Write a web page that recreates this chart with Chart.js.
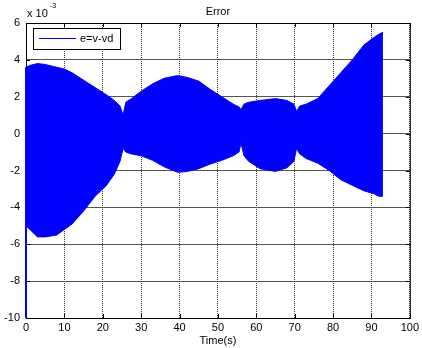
<!DOCTYPE html>
<html lang="en">
<head>
  <meta charset="UTF-8" />
  <title>Error</title>
  <script src="https://cdn.jsdelivr.net/npm/chart.js"></script>
  <style>
    body { margin: 0; background: #fff; }
    #wrap { width: 422px; height: 348px; }
  </style>
</head>
<body>
  <div id="wrap"><canvas id="errChart" width="422" height="348"></canvas></div>

  <script>
    // envelope of e = v - vd (units of 1e-3)
    const times = [0, 1, 3, 5, 8, 10, 12, 15, 18, 21, 23, 24.5, 25.3, 26, 27.5, 30, 33, 36, 39.5, 42, 45, 48, 51, 54, 55.5, 56, 56.8, 58, 61, 65, 68, 69.8, 70.5, 71.3, 73, 76, 79, 82, 85, 88, 90.5, 92, 93];
    const upper = [3.6, 3.7, 3.8, 3.75, 3.6, 3.5, 3.3, 2.9, 2.5, 2.1, 1.8, 1.5, 1.0, 1.7, 1.9, 2.3, 2.7, 3.0, 3.15, 3.05, 2.85, 2.4, 2.0, 1.6, 1.45, 1.3, 1.6, 1.7, 1.8, 1.9, 1.8, 1.6, 1.2, 1.5, 1.6, 1.9, 2.6, 3.3, 4.0, 4.8, 5.2, 5.4, 5.5];
    const lower = [-5.0, -5.2, -5.6, -5.6, -5.5, -5.2, -4.9, -4.2, -3.4, -2.8, -2.2, -1.5, -0.8, -1.0, -1.1, -1.2, -1.45, -1.8, -2.1, -2.05, -1.9, -1.65, -1.45, -1.2, -1.0, -0.5, -1.2, -1.5, -1.9, -2.05, -1.85, -1.5, -0.8, -1.1, -1.35, -1.6, -2.0, -2.5, -2.8, -3.1, -3.25, -3.4, -3.4];
    // initial transient at t = 0
    const startT = [0, 0];
    const startV = [-10, 3.6];

    const xTicks = [0, 10, 20, 30, 40, 50, 60, 70, 80, 90, 100];
    const yTicks = [-10, -8, -6, -4, -2, 0, 2, 4, 6];

    const BLUE = '#0000ff';
    const FONT = '"Liberation Sans", Arial, sans-serif';

    const toPts = (xs, ys) => xs.map((x, i) => ({ x: x, y: ys[i] }));

    // MATLAB style: box and inner ticks under the data, title/exponent/legend on top
    const matlabDecor = {
      id: 'matlabDecor',
      beforeDatasetsDraw(chart) {
        const { ctx, chartArea: a, scales } = chart;
        ctx.save();
        ctx.strokeStyle = '#000';
        ctx.lineWidth = 1;
        ctx.strokeRect(a.left + 0.5, a.top + 0.5, a.right - a.left, a.bottom - a.top);

        ctx.beginPath();
        xTicks.forEach(v => {
          const px = Math.round(scales.x.getPixelForValue(v)) + 0.5;
          ctx.moveTo(px, a.bottom); ctx.lineTo(px, a.bottom - 4);
          ctx.moveTo(px, a.top); ctx.lineTo(px, a.top + 4);
        });
        yTicks.forEach(v => {
          const py = Math.round(scales.y.getPixelForValue(v)) + 0.5;
          ctx.moveTo(a.left, py); ctx.lineTo(a.left + 4, py);
          ctx.moveTo(a.right, py); ctx.lineTo(a.right - 4, py);
        });
        ctx.stroke();
        ctx.restore();
      },
      afterDraw(chart) {
        const { ctx, chartArea: a } = chart;
        ctx.save();
        ctx.fillStyle = '#000';
        ctx.font = '11px ' + FONT;
        ctx.textBaseline = 'middle';
        ctx.textAlign = 'center';
        ctx.fillText('Error', (a.left + a.right) / 2, 12);

        ctx.textAlign = 'left';
        ctx.fillText('x 10', 27, 14);
        ctx.font = '7px ' + FONT;
        ctx.fillText('-3', 50, 6);

        // legend
        ctx.lineWidth = 1;
        ctx.strokeStyle = '#000';
        ctx.fillStyle = '#fff';
        ctx.fillRect(33, 28, 87, 21);
        ctx.strokeRect(33.5, 28.5, 87, 21);
        ctx.strokeStyle = BLUE;
        ctx.beginPath();
        ctx.moveTo(39, 38.5); ctx.lineTo(76, 38.5);
        ctx.stroke();
        ctx.fillStyle = '#000';
        ctx.font = '11px ' + FONT;
        ctx.fillText('e=v-vd', 80, 39);
        ctx.restore();
      }
    };

    new Chart(document.getElementById('errChart'), {
      type: 'line',
      data: {
        datasets: [
          {
            label: 'upper',
            data: toPts(times, upper),
            borderColor: BLUE,
            borderWidth: 1,
            pointRadius: 0,
            fill: false
          },
          {
            label: 'e=v-vd',
            data: toPts(times, lower),
            borderColor: BLUE,
            backgroundColor: BLUE,
            borderWidth: 1,
            pointRadius: 0,
            fill: '-1'
          },
          {
            label: 'start',
            data: toPts(startT, startV),
            borderColor: BLUE,
            borderWidth: 2,
            pointRadius: 0,
            fill: false,
            clip: 3
          }
        ]
      },
      options: {
        responsive: false,
        animation: false,
        layout: { padding: { top: 23, right: 7, left: 0, bottom: 0 } },
        plugins: {
          legend: { display: false },
          tooltip: { enabled: false }
        },
        scales: {
          x: {
            type: 'linear',
            min: 0,
            max: 100,
            afterBuildTicks: s => { s.ticks = xTicks.map(v => ({ value: v })); },
            afterFit: s => { s.height = 30; },
            grid: { color: '#333', lineWidth: 1, drawTicks: false },
            border: { display: true, color: '#000', dash: [1, 1] },
            ticks: { color: '#000', font: { family: FONT, size: 11 }, padding: 3, maxRotation: 0 },
            title: { display: true, text: 'Time(s)', color: '#000', font: { family: FONT, size: 11 }, padding: 0 }
          },
          y: {
            min: -10,
            max: 6,
            afterBuildTicks: s => { s.ticks = yTicks.map(v => ({ value: v })); },
            afterFit: s => { s.width = 26; },
            grid: { color: '#555', lineWidth: 1, drawTicks: false },
            border: { display: true, color: '#000' },
            ticks: { color: '#000', font: { family: FONT, size: 11 }, padding: 6 }
          }
        }
      },
      plugins: [matlabDecor]
    });
  </script>
</body>
</html>
